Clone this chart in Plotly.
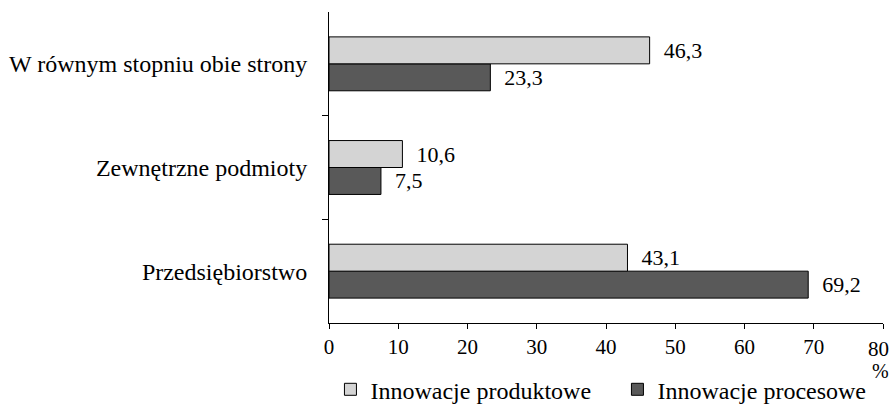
import plotly.graph_objects as go

categories = ["Przedsiębiorstwo", "Zewnętrzne podmioty", "W równym stopniu obie strony"]
produktowe = [43.1, 10.6, 46.3]
procesowe = [69.2, 7.5, 23.3]
series_names = ["Innowacje produktowe", "Innowacje procesowe"]
x_ticks = [0, 10, 20, 30, 40, 50, 60, 70, 80]

FONT = "'Liberation Serif', 'Times New Roman', Times, serif"
FS_TICK = 21
FS_LBL = 22
FS_CAT = 24
FS_LEG = 24
ypos = list(range(len(categories)))

def fmt(v):
    return f"{v:.1f}".replace(".", ",")

fig = go.Figure()
fig.add_trace(go.Bar(
    y=ypos, x=procesowe, orientation="h", name=series_names[1],
    marker=dict(color="#595959", line=dict(color="#000000", width=1)),
    text=[fmt(v) for v in procesowe], texttemplate="\u00a0\u00a0%{text}",
    textposition="outside", constraintext="none",
    textfont=dict(family=FONT, size=FS_LBL, color="#000000"),
    cliponaxis=False,
))
fig.add_trace(go.Bar(
    y=ypos, x=produktowe, orientation="h", name=series_names[0],
    marker=dict(color="#d4d4d4", line=dict(color="#000000", width=1)),
    text=[fmt(v) for v in produktowe], texttemplate="\u00a0\u00a0%{text}",
    textposition="outside", constraintext="none",
    textfont=dict(family=FONT, size=FS_LBL, color="#000000"),
    cliponaxis=False,
))

fig.update_layout(
    width=891, height=405,
    margin=dict(l=329, r=8, t=12, b=82, autoexpand=False),
    paper_bgcolor="white", plot_bgcolor="white",
    barmode="group", bargap=0.48, bargroupgap=0,
    font=dict(family=FONT, size=FS_TICK, color="#000000"),
    showlegend=True,
    legend=dict(
        orientation="h", traceorder="reversed",
        x=-0.001, xanchor="left", y=-0.2145, yanchor="middle",
        entrywidth=242, entrywidthmode="pixels",
        borderwidth=2, bordercolor="rgba(0,0,0,0)",
        font=dict(family=FONT, size=FS_LEG, color="#000000"),
    ),
)

# last tick label drawn as an annotation so it stays inside the page edge
tick_text = [str(t) for t in x_ticks[:-1]] + [""]
fig.update_xaxes(
    range=[0, 80], tickmode="array", tickvals=x_ticks, ticktext=tick_text,
    showline=True, linecolor="#000000", linewidth=1,
    ticks="outside", ticklen=5, tickcolor="#000000", tickwidth=1,
    showgrid=False, zeroline=False, automargin=False,
    tickfont=dict(family=FONT, size=FS_TICK, color="#000000"),
)
fig.update_yaxes(
    range=[-0.5, 2.5], tickmode="array", tickvals=ypos, ticktext=categories,
    showline=True, linecolor="#000000", linewidth=1,
    ticks="", showgrid=False, zeroline=False, automargin=False,
    ticklabelstandoff=16,
    minor=dict(tickmode="array", tickvals=[0.5, 1.5], ticks="outside",
               ticklen=6, tickcolor="#000000", tickwidth=1, showgrid=False),
    tickfont=dict(family=FONT, size=FS_CAT, color="#000000"),
)

fig.add_annotation(
    x=x_ticks[-1], xref="x", y=-0.0826, yref="paper", text=str(x_ticks[-1]),
    showarrow=False, xanchor="right", yanchor="middle", xshift=8,
    font=dict(family=FONT, size=FS_TICK, color="#000000"),
)
fig.add_annotation(
    x=x_ticks[-1], xref="x", y=-0.155, yref="paper", text="%", showarrow=False,
    xanchor="right", yanchor="middle", xshift=8,
    font=dict(family=FONT, size=20, color="#000000"),
)

fig.write_html("out.html", config={"displayModeBar": False},
               post_script="document.body.style.margin='0px';")
